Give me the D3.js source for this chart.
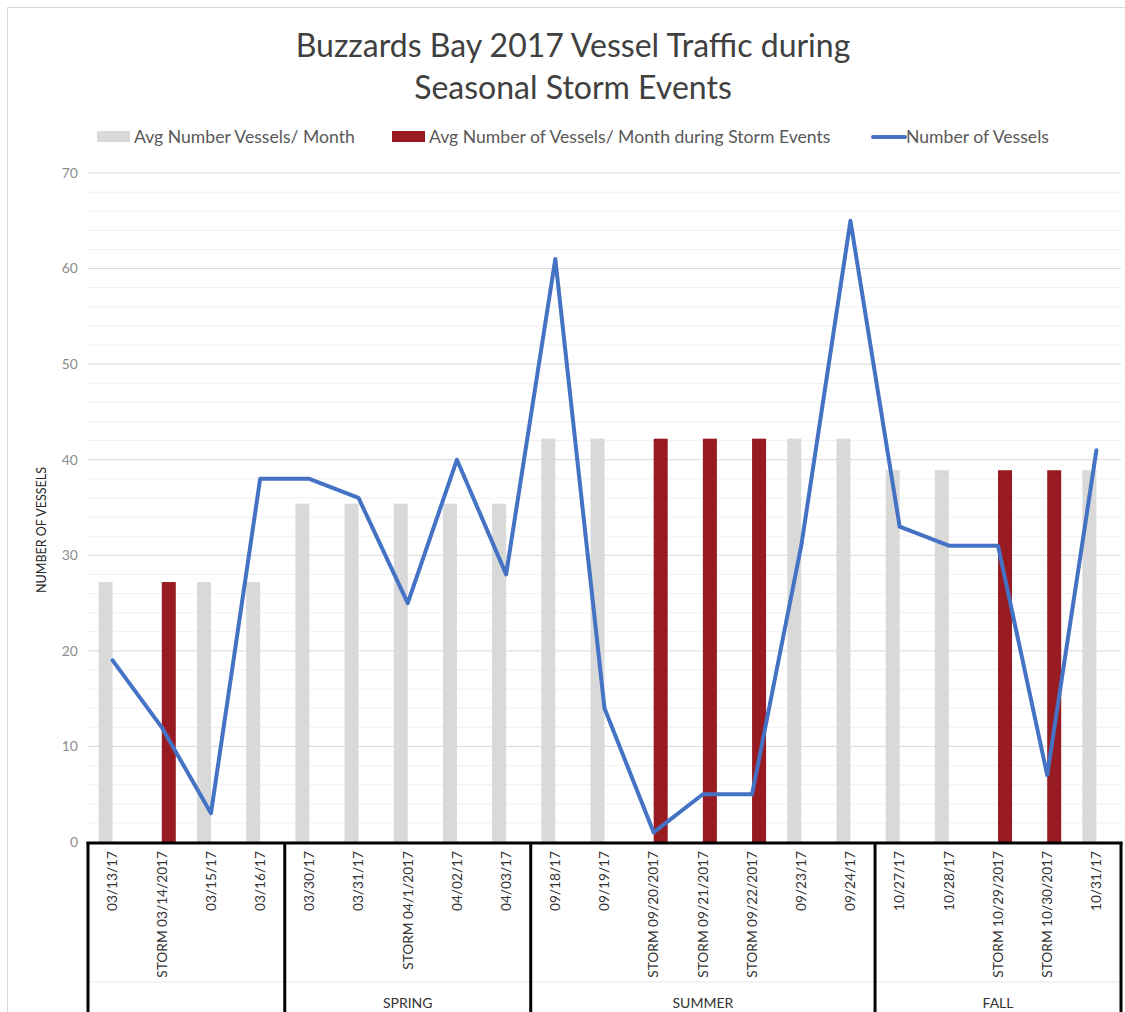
<!DOCTYPE html>
<html>
<head>
<meta charset="utf-8">
<script src="https://cdn.jsdelivr.net/npm/d3@7"></script>
<style>
body { margin: 0; background: #fff; }
text { font-family: Lato, "Open Sans", sans-serif; }
</style>
</head>
<body>
<div id="chart"></div>
<script>
// categories, grouped by season
var categories = ["03/13/17", "STORM 03/14/2017", "03/15/17", "03/16/17",
	"03/30/17", "03/31/17", "STORM 04/1/2017", "04/02/17", "04/03/17",
	"09/18/17", "09/19/17", "STORM 09/20/2017", "STORM 09/21/2017", "STORM 09/22/2017", "09/23/17", "09/24/17",
	"10/27/17", "10/28/17", "STORM 10/29/2017", "STORM 10/30/2017", "10/31/17"];
var groups = ["", "SPRING", "SUMMER", "FALL"];
var groupSizes = [4, 5, 7, 5];
// grey series: avg vessels per month
var avgMonth = [27.2, null, 27.2, 27.2,
	35.4, 35.4, 35.4, 35.4, 35.4,
	42.2, 42.2, null, null, null, 42.2, 42.2,
	38.9, 38.9, null, null, 38.9];
// red series: avg vessels per month during storm events
var avgStorm = [null, 27.2, null, null,
	null, null, null, null, null,
	null, null, 42.2, 42.2, 42.2, null, null,
	null, null, 38.9, 38.9, null];
var vessels = [19, 12, 3, 38, 38, 36, 25, 40, 28, 61, 14, 1, 5, 5, 31, 65, 33, 31, 31, 7, 41];
var yTicks = [0, 10, 20, 30, 40, 50, 60, 70];

var W = 1125, H = 1012;
var svg = d3.select("#chart").append("svg")
	.attr("width", W)
	.attr("height", H);

// outer chart frame
svg.append("rect")
	.attr("x", 7.5).attr("y", 7.5)
	.attr("width", W + 20).attr("height", H + 20)
	.attr("fill", "none")
	.attr("stroke", "#d9d9d9");

var pLeft = 88, pRight = 1121, pTop = 173, pBottom = 842;

var x = d3.scaleBand()
	.domain(d3.range(categories.length))
	.range([pLeft, pRight]);

var y = d3.scaleLinear()
	.domain([0, 70])
	.range([pBottom, pTop]);

// title
svg.append("text")
	.attr("x", 573).attr("y", 57)
	.attr("text-anchor", "middle")
	.attr("font-size", 32)
	.attr("fill", "#404040")
	.text("Buzzards Bay 2017 Vessel Traffic during");
svg.append("text")
	.attr("x", 573).attr("y", 99)
	.attr("text-anchor", "middle")
	.attr("font-size", 32)
	.attr("fill", "#404040")
	.text("Seasonal Storm Events");

// gridlines: minor every 2, major every 10
svg.append("g").selectAll("line")
	.data(d3.range(0, 71, 2).filter(function(v){ return v % 10 !== 0; }))
	.enter().append("line")
	.attr("x1", pLeft).attr("x2", pRight)
	.attr("y1", function(d){ return y(d); })
	.attr("y2", function(d){ return y(d); })
	.attr("stroke", "#f0f0f0");

svg.append("g").selectAll("line")
	.data(yTicks.slice(1))
	.enter().append("line")
	.attr("x1", pLeft).attr("x2", pRight)
	.attr("y1", function(d){ return y(d); })
	.attr("y2", function(d){ return y(d); })
	.attr("stroke", "#d9d9d9");

svg.append("g").selectAll("text")
	.data(yTicks)
	.enter().append("text")
	.attr("x", 78)
	.attr("y", function(d){ return y(d); })
	.attr("dy", "0.35em")
	.attr("text-anchor", "end")
	.attr("font-size", 14)
	.attr("fill", "#8c8c8c")
	.text(function(d){ return d; });

svg.append("text")
	.attr("transform", "translate(46,530) rotate(-90)")
	.attr("text-anchor", "middle")
	.attr("font-size", 12.5)
	.attr("fill", "#262626")
	.text("NUMBER OF VESSELS");

// bars: grey sits left of category centre, red sits right
var bw = 14;
function cx(i){ return x(i) + x.bandwidth() / 2; }

function withIndex(arr){
	return arr.map(function(v, i){ return {i: i, v: v}; })
		.filter(function(d){ return d.v !== null; });
}

svg.append("g").selectAll("rect")
	.data(withIndex(avgMonth))
	.enter().append("rect")
	.attr("x", function(d){ return cx(d.i) - bw; })
	.attr("y", function(d){ return y(d.v); })
	.attr("width", bw)
	.attr("height", function(d){ return pBottom - y(d.v); })
	.attr("fill", "#d9d9d9");

svg.append("g").selectAll("rect")
	.data(withIndex(avgStorm))
	.enter().append("rect")
	.attr("x", function(d){ return cx(d.i); })
	.attr("y", function(d){ return y(d.v); })
	.attr("width", bw)
	.attr("height", function(d){ return pBottom - y(d.v); })
	.attr("fill", "#981b22");

// line
var line = d3.line()
	.x(function(d, i){ return cx(i); })
	.y(function(d){ return y(d); });

svg.append("path")
	.datum(vessels)
	.attr("d", line)
	.attr("fill", "none")
	.attr("stroke", "#4472c4")
	.attr("stroke-width", 4)
	.attr("stroke-linejoin", "round")
	.attr("stroke-linecap", "round");

// multi-level category axis
var axis = svg.append("g");
axis.append("line")
	.attr("x1", pLeft).attr("x2", pRight)
	.attr("y1", 982).attr("y2", 982)
	.attr("stroke", "#e6e6e6");

axis.selectAll(".cat")
	.data(categories)
	.enter().append("text")
	.attr("class", "cat")
	.attr("transform", function(d, i){
		return "translate(" + cx(i) + ",851) rotate(-90)";
	})
	.attr("dy", "0.35em")
	.attr("text-anchor", "end")
	.attr("font-size", 13.7)
	.attr("fill", "#333")
	.text(function(d){ return d; });

var bounds = [0];
groupSizes.forEach(function(n, g){ bounds.push(bounds[g] + n); });

axis.selectAll(".grp")
	.data(groups)
	.enter().append("text")
	.attr("class", "grp")
	.attr("x", function(d, g){ return (x(bounds[g]) + x(bounds[g + 1] - 1) + x.bandwidth()) / 2; })
	.attr("y", 1008)
	.attr("text-anchor", "middle")
	.attr("font-size", 14)
	.attr("fill", "#333")
	.text(function(d){ return d; });

axis.selectAll(".div")
	.data(bounds)
	.enter().append("line")
	.attr("class", "div")
	.attr("x1", function(d){ return d < categories.length ? x(d) : pRight; })
	.attr("x2", function(d){ return d < categories.length ? x(d) : pRight; })
	.attr("y1", pBottom).attr("y2", H + 5)
	.attr("stroke", "#000")
	.attr("stroke-width", 3);

axis.append("line")
	.attr("x1", pLeft - 1.5).attr("x2", pRight + 1.5)
	.attr("y1", pBottom + 1).attr("y2", pBottom + 1)
	.attr("stroke", "#000")
	.attr("stroke-width", 3);

// legend
var leg = svg.append("g").attr("font-size", 17.6).attr("fill", "#595959");
leg.append("rect").attr("x", 97).attr("y", 131).attr("width", 33).attr("height", 11).attr("fill", "#d9d9d9");
leg.append("text").attr("x", 134).attr("y", 143).text("Avg Number Vessels/ Month");
leg.append("rect").attr("x", 392).attr("y", 131).attr("width", 33).attr("height", 11).attr("fill", "#981b22");
leg.append("text").attr("x", 429).attr("y", 143).text("Avg Number of Vessels/ Month during Storm Events");
leg.append("line").attr("x1", 873).attr("x2", 905).attr("y1", 137).attr("y2", 137)
	.attr("stroke", "#4472c4").attr("stroke-width", 4).attr("stroke-linecap", "round");
leg.append("text").attr("x", 906).attr("y", 143).text("Number of Vessels");
</script>
</body>
</html>
